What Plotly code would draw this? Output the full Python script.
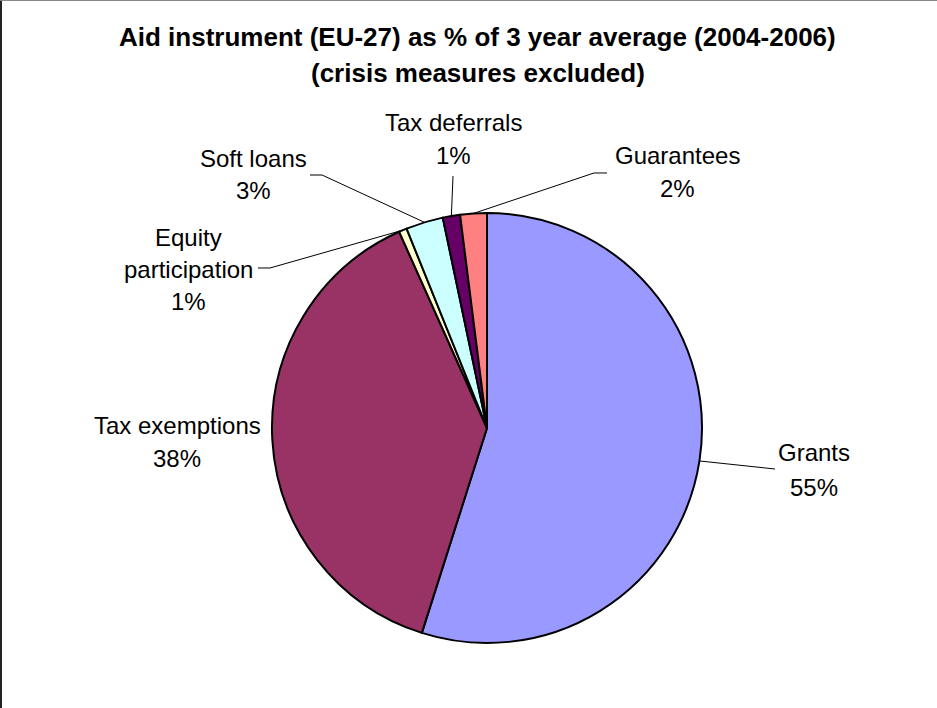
import math
import plotly.graph_objects as go

# Aid instruments, EU-27, share of the 2004-2006 average (%)
instruments = ["Grants", "Tax exemptions", "Equity participation",
               "Soft loans", "Tax deferrals", "Guarantees"]
shares = [54.9, 38.4, 0.6, 2.8, 1.3, 2.0]
slice_colors = ["#9999FF", "#993366", "#FFFFCC", "#CCFFFF", "#660066", "#FF8080"]

title_lines = ["Aid instrument (EU-27) as % of 3 year average (2004-2006)",
               "(crisis measures excluded)"]

W, H = 937, 708
CX, CY, R = 487, 428, 215
FONT = "Liberation Sans, Arial, sans-serif"


def px(x):
    return x / W


def py(y):
    return 1 - y / H


# label placement: centre x, y of each text line, leader-line bends (pixels)
label_layout = {
    "Grants": dict(x=814, ys=[452, 487], bends=[(775, 469)]),
    "Tax exemptions": dict(x=177, ys=[425, 458], bends=[]),
    "Equity participation": dict(x=188, ys=[237, 269, 301], bends=[(270, 268), (258, 268)]),
    "Soft loans": dict(x=253, ys=[158, 190], bends=[(322, 175), (310, 175)]),
    "Tax deferrals": dict(x=453, ys=[122, 155], bends=[(453, 176)]),
    "Guarantees": dict(x=677, ys=[155, 188], bends=[(594, 173), (607, 173)]),
}
name_lines = {"Equity participation": ["Equity", "participation"]}

fig = go.Figure(go.Pie(
    labels=instruments,
    values=shares,
    sort=False,
    direction="clockwise",
    rotation=0,
    marker=dict(colors=slice_colors, line=dict(color="black", width=2)),
    textinfo="none",
    hoverinfo="label+percent",
    showlegend=False,
    domain=dict(x=[px(CX - R), px(CX + R)], y=[py(CY + R), py(CY - R)]),
))

annotations = []
shapes = []

for i, line in enumerate(title_lines):
    annotations.append(dict(
        text=f"<b>{line}</b>", x=px(478), y=py([37, 73][i]),
        xref="paper", yref="paper", xanchor="center", yanchor="middle",
        showarrow=False, font=dict(family=FONT, size=26, color="black")))

total = sum(shares)
cum = 0.0
for name, val in zip(instruments, shares):
    mid = (cum + val / 2) / total * 2 * math.pi
    cum += val
    spec = label_layout[name]
    pct = f"{round(val / total * 100)}%"
    lines = name_lines.get(name, [name]) + [pct]
    for txt, y in zip(lines, spec["ys"]):
        annotations.append(dict(
            text=txt, x=px(spec["x"]), y=py(y), xref="paper", yref="paper",
            xanchor="center", yanchor="middle", showarrow=False,
            font=dict(family=FONT, size=24, color="black")))
    if spec["bends"]:
        pts = [(CX + R * math.sin(mid), CY - R * math.cos(mid))] + spec["bends"]
        path = "M " + " L ".join(f"{px(a):.5f},{py(b):.5f}" for a, b in pts)
        shapes.append(dict(type="path", path=path, xref="paper", yref="paper",
                           line=dict(color="black", width=1)))

# chart frame: dark left edge and grey top edge
shapes.append(dict(type="line", x0=px(1), x1=px(1), y0=0, y1=1, xref="paper", yref="paper",
                   line=dict(color="#222222", width=2)))
shapes.append(dict(type="line", x0=0, x1=1, y0=py(0.5), y1=py(0.5), xref="paper", yref="paper",
                   line=dict(color="#888888", width=1)))

fig.update_layout(
    width=W, height=H,
    margin=dict(l=0, r=0, t=0, b=0),
    paper_bgcolor="white", plot_bgcolor="white",
    annotations=annotations, shapes=shapes,
    font=dict(family=FONT),
)

fig.write_html("out.html")
